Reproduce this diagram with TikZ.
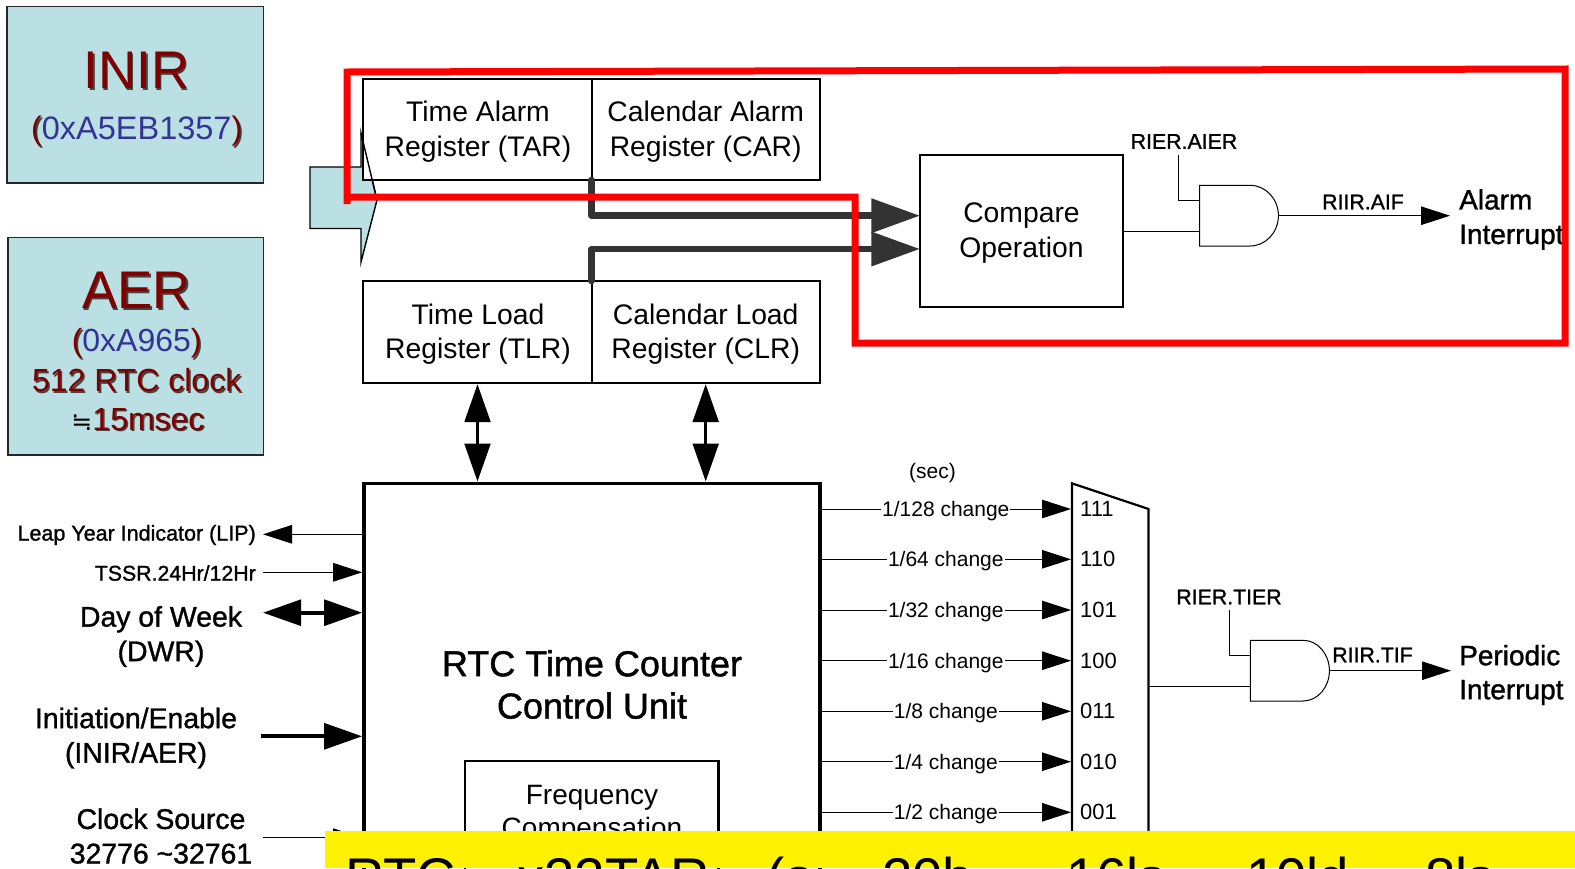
\documentclass[tikz,border=0pt]{standalone}
\usepackage{fontspec}
\usetikzlibrary{arrows.meta}
\setmainfont{Liberation Sans}
\newfontfamily\bfk[FakeBold=1.2]{Liberation Sans}
\newfontfamily\djv{DejaVu Sans}
\definecolor{panel}{HTML}{BBE0E3}
\definecolor{maroon}{HTML}{800000}
\definecolor{navyt}{HTML}{333399}
\definecolor{busc}{HTML}{333333}
\definecolor{shad}{HTML}{444444}
\newcommand{\shtx}[1]{\makebox[0pt][l]{\kern1.5pt\raisebox{-1.5pt}{\textcolor{shad}{#1}}}\textcolor{maroon}{#1}}
\tikzset{
  x=1pt,y=-1pt,
  box/.style={draw=black,line width=2.2pt,fill=white,inner sep=0pt,align=center,font=\fontsize{28.3}{34.5}\selectfont},
  panelbox/.style={draw=black!85,line width=1.6pt,fill=panel,inner sep=0pt,align=center},
  lab/.style={inner sep=0pt,align=center,font=\bfk\fontsize{21.3}{26}\selectfont},
  biglab/.style={inner sep=0pt,align=center,font=\bfk\fontsize{28.4}{34.5}\selectfont},
  boxtxt/.style={inner sep=0pt,align=center,font=\fontsize{28.3}{34.5}\selectfont},
  chg/.style={inner sep=1pt,fill=white,font=\fontsize{21}{25}\selectfont},
  muxlab/.style={inner sep=0pt,anchor=west,font=\fontsize{22}{26}\selectfont},
  wire/.style={line width=1pt,draw=black},
  tipS/.style={-{Triangle[length=29pt,width=18.5pt]}},
  tipL/.style={-{Triangle[length=38pt,width=25.6pt]}},
  dbl/.style={{Triangle[length=38pt,width=25.6pt]}-{Triangle[length=38pt,width=25.6pt]}},
  bus/.style={line width=6.5pt,draw=busc,line join=round,-{Triangle[length=48.6pt,width=33pt]}},
  redline/.style={draw=red,line width=7pt},
}
\begin{document}
\begin{tikzpicture}
\useasboundingbox (0,0) rectangle (1575,868);
\clip (0,0) rectangle (1575,868);
\fill[white] (0,0) rectangle (1575,868);

% left info panels
\node[panelbox,minimum width=256.5pt,minimum height=176.5pt] (inir) at (135.2,94.8) {};
\node[inner sep=0pt,font=\fontsize{53}{60}\selectfont] (inirt) at (136.7,71.5) {\shtx{INIR}};
\node[inner sep=0pt,font=\fontsize{32.5}{38}\selectfont] (inirv) at (136.7,132) {\shtx{(}\textcolor{navyt}{0xA5EB1357}\shtx{)}};
\node[panelbox,minimum width=255.5pt,minimum height=217.5pt] (aer) at (135.7,346.2) {};
\node[inner sep=0pt,font=\fontsize{53}{60}\selectfont] (aert) at (136.7,291.5) {\shtx{AER}};
\node[inner sep=0pt,font=\fontsize{32}{38}\selectfont] (aerv) at (136.7,344) {\shtx{(}\textcolor{navyt}{0xA965}\shtx{)}};
\node[inner sep=0pt,font=\fontsize{32}{38}\selectfont] (aerc) at (136.7,381) {\shtx{512 RTC clock}};
\node[inner sep=0pt,font=\fontsize{32}{38}\selectfont] (aerm) at (138,420) {{\djv\fontsize{25}{28}\selectfont ≒}\shtx{15msec}};

% block arrow
\draw[draw=black,line width=1.4pt,fill=panel,line join=miter] (310,167) -- (361,167) -- (361,133) -- (377,200) -- (361,262) -- (361,228.5) -- (310,228.5) -- cycle;

% registers
\node[box,minimum width=228.4pt,minimum height=101pt] (tar) at (477.5,129.5) {};
\node[box,minimum width=228.1pt,minimum height=101pt] (car) at (705.7,129.5) {};
\node[box,minimum width=228.4pt,minimum height=102pt] (tlr) at (477.5,332) {};
\node[box,minimum width=228.1pt,minimum height=102pt] (clr) at (705.7,332) {};
\node[boxtxt] (tart) at (478,131.5) {Time Alarm\\Register (TAR)};
\node[boxtxt] (cart) at (705.7,131.5) {Calendar Alarm\\Register (CAR)};
\node[boxtxt] (tlrt) at (478,334) {Time Load\\Register (TLR)};
\node[boxtxt] (clrt) at (705.7,334) {Calendar Load\\Register (CLR)};
\draw[black,line width=1.4pt] (361,133) -- (377,200);

% compare and alarm gate
\node[box,minimum width=203pt,minimum height=151.7pt] (cmp) at (1021.5,230.8) {};
\node[boxtxt] (cmpt) at (1021.5,233.3) {Compare\\Operation};
\coordinate (tarbus) at (591.4,180);
\coordinate (tlrbus) at (591.4,281);
\coordinate (bus1) at (920,215.7);
\coordinate (bus2) at (920,249);
\draw[bus,line cap=round] (tarbus) -- (591.4,215.7) -- (bus1);
\draw[bus,line cap=round] (tlrbus) -- (591.4,249) -- (bus2);

\draw[wire,fill=white] (1199.6,185.3) -- (1250,185.3) arc[start angle=90,end angle=-90,x radius=28.4pt,y radius=30.35pt] -- (1199.6,246) -- cycle;
\coordinate (gaIn1) at (1199.6,200);
\coordinate (gaIn2) at (1199.6,231);
\coordinate (gaOut) at (1278.4,215.7);
\coordinate (gaTip) at (1450,215.7);
\node[lab] (aier) at (1184,141.5) {RIER.AIER};
\draw[wire] (1178,155) -- (1178,200) -- (gaIn1);
\draw[wire] (cmp.east |- gaIn2) -- (gaIn2);
\draw[wire,tipS] (gaOut) -- (gaTip);
\node[lab] (aif) at (1363,202) {RIIR.AIF};
\node[biglab,align=left,anchor=west,font=\bfk\fontsize{28}{34.5}\selectfont] (alarm) at (1459,219.5) {Alarm\\Interrupt};

% main block and bidirectional register arrows
\node[draw=black,line width=3.6pt,fill=white,minimum width=456pt,minimum height=520pt,inner sep=0pt,anchor=north west] (main) at (362.2,481.5) {};
\draw[black,line width=3.5pt,dbl] (tlr.south) -- (tlr.south |- main.north);
\draw[black,line width=3.5pt,dbl] (clr.south) -- (clr.south |- main.north);

\node[inner sep=0pt,align=center,font=\bfk\fontsize{36}{42.3}\selectfont] (mt) at (592,684.5) {RTC Time Counter\\Control Unit};
\node[draw=black,line width=2.2pt,fill=white,minimum width=253.6pt,minimum height=150pt,inner sep=0pt,anchor=north west] (freq) at (463.8,760) {};
\node[inner sep=0pt,align=center,font=\fontsize{28}{33}\selectfont] (freqt) at (592,814) {Frequency\\Compensation};

% left side signals
\node[lab,anchor=east,font=\bfk\fontsize{21.5}{26}\selectfont] (lip) at (256,535) {Leap Year Indicator (LIP)};
\coordinate (lipT) at (263,534.3);
\draw[wire,tipS] (main.west |- lipT) -- (lipT);
\node[lab,anchor=east] (tssr) at (256,573) {TSSR.24Hr/12Hr};
\coordinate (tssrS) at (263,572.3);
\draw[wire,tipS] (tssrS) -- (main.west |- tssrS);
\node[biglab] (dwr) at (161,636.5) {Day of Week\\(DWR)};
\coordinate (dwrS) at (263,612.7);
\draw[black,line width=4pt,dbl] (dwrS) -- (main.west |- dwrS);
\node[biglab] (ini) at (136,738) {Initiation/Enable\\(INIR/AER)};
\coordinate (iniS) at (261,736.3);
\draw[black,line width=4pt,tipL] (iniS) -- (main.west |- iniS);
\node[biglab] (clk) at (161,836) {Clock Source\\32776 \textasciitilde 32761};
\coordinate (clkS) at (263,837.7);
\draw[wire,tipS] (clkS) -- (main.west |- clkS);

% mux
\node[inner sep=0pt,font=\fontsize{21}{25}\selectfont] (sec) at (932.5,473.5) {(sec)};
\draw[black,line width=2.2pt,fill=white] (1071.9,1000) -- (1071.9,483.3) -- (1148.5,509) -- (1148.5,1000);
\foreach \nm/\yy/\txt/\bits in {a/509/{1/128 change}/111,b/559.3/{1/64 change}/110,c/610/{1/32 change}/101,d/660.7/{1/16 change}/100,e/711.3/{1/8 change}/011,f/761.7/{1/4 change}/010,g/812.3/{1/2 change}/001}{
  \coordinate (in\nm) at (1071,\yy);
  \draw[wire,tipS] (main.east |- in\nm) -- (in\nm);
  \node[chg,yshift=-2pt] (ch\nm) at (945.8,\yy) {\txt};
  \node[muxlab] (bit\nm) at (1080,\yy) {\bits};
}

% periodic gate
\draw[wire,fill=white] (1250.3,640.3) -- (1303,640.3) arc[start angle=90,end angle=-90,x radius=26.4pt,y radius=30.35pt] -- (1250.3,701) -- cycle;
\coordinate (gbIn1) at (1250.3,655.7);
\coordinate (gbIn2) at (1250.3,686);
\coordinate (muxOut) at (1148.5,686);
\coordinate (gbOut) at (1329.4,670.7);
\coordinate (gbTip) at (1451,670.7);
\node[lab] (tier) at (1229,597) {RIER.TIER};
\draw[wire] (1229,610) -- (1229,655.7) -- (gbIn1);
\draw[wire] (muxOut) -- (gbIn2);
\draw[wire,tipS] (gbOut) -- (gbTip);
\node[lab] (tif) at (1372.5,655) {RIIR.TIF};
\node[biglab,align=left,anchor=west,font=\bfk\fontsize{28}{34}\selectfont] (per) at (1459,675) {Periodic\\Interrupt};

% red outline
\draw[redline,line cap=butt,miter limit=10] (347,204) -- (347,72) -- (1565,69) -- (1565,343) -- (855,343) -- (855,197) -- (343.5,197);

% yellow banner
\fill[yellow] (324.5,831) rectangle (1575,868);
\node[inner sep=0pt,anchor=base west,font=\fontsize{54.5}{60}\selectfont] (banner) at (345,896)
 {\makebox[172pt][l]{RTC}\makebox[249pt][l]{x32TAR}\makebox[116pt][l]{(a}\makebox[184pt][l]{20h}\makebox[180pt][l]{16ls}\makebox[179pt][l]{10ld}8ls};
\end{tikzpicture}
\end{document}
